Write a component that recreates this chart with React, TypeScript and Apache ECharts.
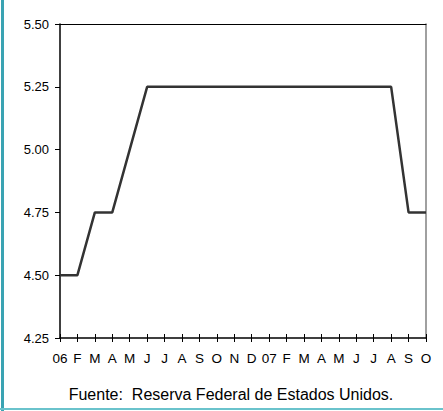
import React, { useEffect, useRef } from "react";
import * as echarts from "echarts";

const categories = ["06", "F", "M", "A", "M", "J", "J", "A", "S", "O", "N", "D", "07", "F", "M", "A", "M", "J", "J", "A", "S", "O"];
const rates = [4.5, 4.5, 4.75, 4.75, 5.0, 5.25, 5.25, 5.25, 5.25, 5.25, 5.25, 5.25, 5.25, 5.25, 5.25, 5.25, 5.25, 5.25, 5.25, 5.25, 4.75, 4.75];
const yMin = 4.25;
const yMax = 5.5;
const yStep = 0.25;
const sourceText = "Fuente:  Reserva Federal de Estados Unidos.";

export default function App() {
  const ref = useRef<HTMLDivElement>(null);
  useEffect(() => {
    if (!ref.current) return;
    const chart = echarts.init(ref.current, undefined, { renderer: "svg" });
    const font = "Liberation Sans, Arial, sans-serif";
    chart.setOption({
      animation: false,
      backgroundColor: "#ffffff",
      grid: { left: 60, top: 24, right: 17, bottom: 73, containLabel: false },
      xAxis: [
        {
          type: "category",
          data: categories,
          boundaryGap: false,
          position: "bottom",
          axisLine: { show: true, lineStyle: { color: "#000", width: 1.5 } },
          axisTick: { show: true, inside: false, length: 4, interval: 0, lineStyle: { color: "#000", width: 1 } },
          axisLabel: { interval: 0, color: "#000", fontFamily: font, fontSize: 13.5, margin: 13 },
          splitLine: { show: false },
        },
        {
          type: "category",
          data: categories,
          boundaryGap: false,
          position: "bottom",
          axisLine: { show: false },
          axisTick: { show: true, inside: true, length: 4, interval: 0, lineStyle: { color: "#000", width: 1 } },
          axisLabel: { show: false },
          splitLine: { show: false },
        },
        {
          type: "category",
          data: categories,
          boundaryGap: false,
          position: "top",
          axisLine: { show: true, lineStyle: { color: "#000", width: 1 } },
          axisTick: { show: false },
          axisLabel: { show: false },
          splitLine: { show: false },
        },
      ],
      yAxis: [
        {
          type: "value",
          min: yMin,
          max: yMax,
          interval: yStep,
          position: "left",
          axisLine: { show: true, lineStyle: { color: "#000", width: 1.5 } },
          axisTick: { show: true, inside: false, length: 5, lineStyle: { color: "#000", width: 1 } },
          axisLabel: {
            color: "#000",
            fontFamily: font,
            fontSize: 13,
            margin: 11,
            formatter: (v: number) => v.toFixed(2),
          },
          splitLine: { show: false },
        },
        {
          type: "value",
          min: yMin,
          max: yMax,
          interval: yStep,
          position: "right",
          axisLine: { show: true, lineStyle: { color: "#808080", width: 1.5 } },
          axisTick: { show: false },
          axisLabel: { show: false },
          splitLine: { show: false },
        },
      ],
      series: [
        {
          type: "line",
          data: rates,
          xAxisIndex: 0,
          yAxisIndex: 0,
          symbol: "none",
          lineStyle: { color: "#333333", width: 2.5 },
          z: 3,
        },
      ],
      graphic: [
        { type: "rect", left: 1, top: 0, shape: { width: 3, height: 411 }, style: { fill: "#3aa3b3" } },
        { type: "rect", left: 0, top: 408, shape: { width: 443, height: 2 }, style: { fill: "#6ac3cc" } },
        {
          type: "text",
          x: 231,
          y: 394,
          style: {
            text: sourceText,
            fill: "#000",
            font: `16px ${font}`,
            textAlign: "center",
            textVerticalAlign: "middle",
          },
        },
      ],
    });
    return () => chart.dispose();
  }, []);
  return (
    <div
      ref={ref}
      style={{ position: "absolute", left: 0, top: 0, width: 443, height: 411 }}
    />
  );
}
